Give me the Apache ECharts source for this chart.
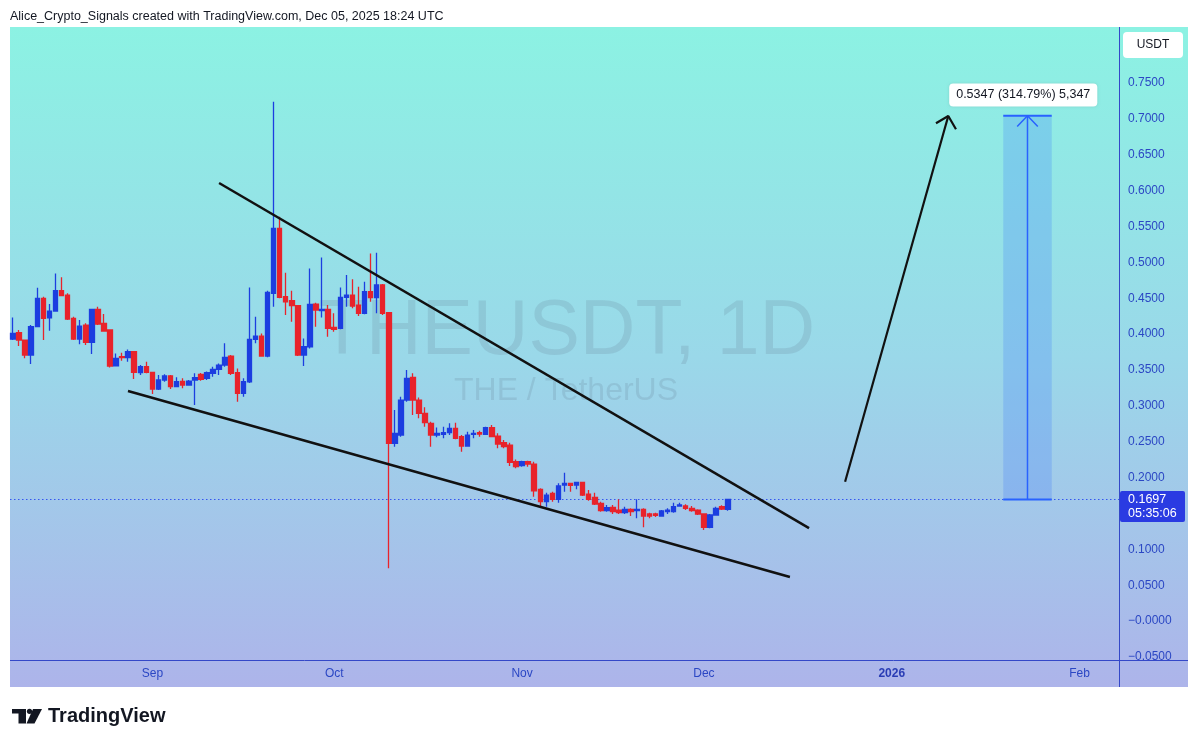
<!DOCTYPE html>
<html><head><meta charset="utf-8">
<script src="https://cdn.jsdelivr.net/npm/echarts@6/dist/echarts.min.js"></script>
<style>html,body{margin:0;padding:0;background:#fff}#c{width:1200px;height:747px}</style>
</head><body><div id="c"></div>
<script>
// ---------- DATA ----------
const startDate = [2025, 7, 9];   // Aug 9, 2025 (first daily candle)
const dayCount = 183;             // days shown on the time axis (to early Feb 2026)
const opens  = [0.3932,0.4020,0.3918,0.3709,0.4104,0.4499,0.4229,0.4322,0.4606,0.4545,
                0.4220,0.3932,0.4127,0.3886,0.4346,0.4151,0.4058,0.3560,0.3686,0.3672,
                0.3756,0.3463,0.3547,0.3468,0.3235,0.3361,0.3417,0.3268,0.3342,0.3291,
                0.3361,0.3440,0.3384,0.3454,0.3509,0.3570,0.3695,0.3463,0.3175,0.3337,
                0.3928,0.3974,0.3695,0.4569,0.5475,0.4522,0.4466,0.4397,0.3709,0.3825,
                0.4420,0.4327,0.4346,0.4095,0.4081,0.4513,0.4545,0.4406,0.4290,0.4592,
                0.4508,0.4685,0.4299,0.2478,0.2594,0.3082,0.3398,0.3082,0.2896,0.2757,
                0.2594,0.2604,0.2627,0.2687,0.2571,0.2441,0.2604,0.2627,0.2604,0.2697,
                0.2580,0.2488,0.2455,0.2223,0.2167,0.2223,0.2190,0.1837,0.1665,0.1781,
                0.1698,0.1898,0.1921,0.1898,0.1935,0.1772,0.1726,0.1642,0.1540,0.1587,
                0.1549,0.1512,0.1559,0.1540,0.1559,0.1494,0.1494,0.1466,0.1526,0.1526,
                0.1605,0.1605,0.1573,0.1549,0.1494,0.1308,0.1480,0.1596,0.1559];
const highs  = [0.4234,0.4058,0.3925,0.4127,0.4648,0.4522,0.4420,0.4847,0.4792,0.4569,
                0.4243,0.4197,0.4151,0.4350,0.4383,0.4281,0.4067,0.3732,0.3742,0.3788,
                0.3760,0.3570,0.3616,0.3470,0.3430,0.3440,0.3430,0.3398,0.3384,0.3361,
                0.3454,0.3460,0.3480,0.3546,0.3593,0.3872,0.3709,0.3523,0.3384,0.4652,
                0.4243,0.4011,0.4606,0.7240,0.5637,0.4857,0.4606,0.4400,0.3941,0.4917,
                0.4438,0.5070,0.4406,0.4290,0.4652,0.4824,0.4764,0.4662,0.4731,0.5126,
                0.5135,0.4699,0.4310,0.2943,0.3129,0.3500,0.3454,0.3119,0.2980,0.2780,
                0.2701,0.2711,0.2757,0.2766,0.2594,0.2641,0.2664,0.2655,0.2711,0.2734,
                0.2618,0.2525,0.2488,0.2255,0.2237,0.2237,0.2223,0.1851,0.1791,0.1805,
                0.1921,0.2070,0.1930,0.1944,0.1944,0.1828,0.1791,0.1665,0.1619,0.1619,
                0.1698,0.1596,0.1573,0.1698,0.1573,0.1512,0.1512,0.1549,0.1573,0.1651,
                0.1651,0.1628,0.1605,0.1559,0.1503,0.1494,0.1596,0.1615,0.1707];
const lows   = [0.3918,0.3835,0.3663,0.3584,0.4095,0.3918,0.4048,0.4313,0.4531,0.4197,
                0.3920,0.3858,0.3849,0.3723,0.4127,0.4034,0.3537,0.3556,0.3630,0.3616,
                0.3375,0.3430,0.3454,0.3166,0.3221,0.3338,0.3235,0.3259,0.3245,0.3282,
                0.3012,0.3350,0.3360,0.3407,0.3430,0.3546,0.3430,0.3059,0.3128,0.3320,
                0.3872,0.3686,0.3677,0.4383,0.4499,0.4267,0.4174,0.3695,0.3556,0.3802,
                0.4104,0.4234,0.3965,0.4034,0.4067,0.4383,0.4360,0.4253,0.4276,0.4452,
                0.4290,0.4267,0.0736,0.2432,0.2571,0.3059,0.2873,0.2827,0.2711,0.2432,
                0.2562,0.2548,0.2594,0.2534,0.2362,0.2432,0.2548,0.2571,0.2594,0.2562,
                0.2409,0.2409,0.2162,0.2130,0.2153,0.2153,0.1735,0.1595,0.1595,0.1665,
                0.1651,0.1805,0.1805,0.1837,0.1744,0.1679,0.1619,0.1526,0.1526,0.1494,
                0.1494,0.1494,0.1466,0.1433,0.1308,0.1433,0.1452,0.1457,0.1494,0.1512,
                0.1596,0.1549,0.1526,0.1480,0.1271,0.1294,0.1480,0.1549,0.1540];
const closes = [0.4011,0.3918,0.3709,0.4104,0.4499,0.4220,0.4322,0.4606,0.4536,0.4211,
                0.3932,0.4113,0.3886,0.4346,0.4141,0.4044,0.3556,0.3663,0.3672,0.3756,
                0.3468,0.3547,0.3468,0.3235,0.3361,0.3417,0.3268,0.3338,0.3291,0.3347,
                0.3393,0.3370,0.3463,0.3509,0.3570,0.3677,0.3454,0.3175,0.3337,0.3928,
                0.3974,0.3695,0.4583,0.5475,0.4513,0.4452,0.4397,0.3709,0.3825,0.4415,
                0.4336,0.4346,0.4081,0.4067,0.4513,0.4545,0.4392,0.4290,0.4592,0.4508,
                0.4685,0.4290,0.2478,0.2618,0.3082,0.3384,0.3082,0.2896,0.2766,0.2594,
                0.2618,0.2627,0.2687,0.2548,0.2441,0.2594,0.2618,0.2608,0.2697,0.2571,
                0.2469,0.2432,0.2213,0.2153,0.2223,0.2190,0.1818,0.1665,0.1758,0.1698,
                0.1884,0.1921,0.1893,0.1935,0.1758,0.1698,0.1633,0.1540,0.1582,0.1526,
                0.1512,0.1559,0.1526,0.1559,0.1466,0.1466,0.1475,0.1536,0.1549,0.1596,
                0.1619,0.1573,0.1540,0.1494,0.1308,0.1480,0.1573,0.1563,0.1697];
const monthTicks = {'2025-09-01':'Sep','2025-10-01':'Oct','2025-11-01':'Nov',
                    '2025-12-01':'Dec','2026-01-01':'2026','2026-02-01':'Feb'};
const priceTicks = [-0.05,0,0.05,0.10,0.15,0.20,0.25,0.30,0.35,0.40,0.45,0.50,0.55,0.60,0.65,0.70,0.75];
const lastPrice = 0.1697;
const countdown = '05:35:06';
// drawings (x in day index from first candle, y in price)
const upperTrend = [[34.0,0.6107],[131.35,0.1298]];
const lowerTrend = [[18.97,0.3208],[128.2,0.0615]];
const arrowShaft = [[137.3,0.1944],[154.33,0.7040]];
const arrowHead  = [[152.3,0.6939],[154.33,0.7040],[155.6,0.6855]];
const rangeX = [163.4, 167.4, 171.4];   // left, middle, right
const rangeY = [0.1697, 0.7044];        // from, to
const rangeLabel = '0.5347 (314.79%) 5,347';

// ---------- BUILD ----------
const cats = [];
const d0 = Date.UTC(startDate[0], startDate[1], startDate[2]);
for (let i = 0; i < dayCount; i++) cats.push(new Date(d0 + i * 86400000).toISOString().slice(0, 10));
const candleData = opens.map((o, i) => [o, closes[i], lows[i], highs[i]]);

const UP = '#1C3EE0', DOWN = '#E8232B', AXIS = '#2B47C4', TVBLUE = '#2962FF';
const FONT = 'Liberation Sans, Arial, sans-serif';
const chart = echarts.init(document.getElementById('c'), null, {renderer: 'canvas'});

function lineSeries(data, color, width) {
  return {type: 'line', xAxisIndex: 1, yAxisIndex: 0, data: data, symbol: 'none', silent: true,
          lineStyle: {color: color, width: width}, z: 6, animation: false};
}

const option = {
  animation: false,
  backgroundColor: '#ffffff',
  grid: {left: 10, right: 81, top: 27, bottom: 87},
  xAxis: [
    {type: 'category', data: cats, boundaryGap: true,
     axisLine: {show: false}, axisTick: {show: false}, splitLine: {show: false},
     axisLabel: {
       interval: (i, v) => monthTicks.hasOwnProperty(v),
       formatter: v => monthTicks[v] === '2026' ? '{b|2026}' : (monthTicks[v] || ''),
       color: AXIS, fontSize: 12, margin: 8, fontFamily: FONT,
       rich: {b: {fontWeight: 'bold', color: '#2A3DB5', fontSize: 12, fontFamily: FONT}}
     }},
    {type: 'value', min: -0.5, max: dayCount - 0.5, show: false}
  ],
  yAxis: [{
    type: 'value', position: 'right', min: -0.0541, max: 0.8281, scale: true,
    axisLine: {show: false}, axisTick: {show: false}, splitLine: {show: false},
    axisLabel: {
      customValues: priceTicks,
      formatter: v => (Math.abs(v) < 1e-9 ? '\u22120.0000' : (v < 0 ? '\u2212' + Math.abs(v).toFixed(4) : v.toFixed(4))),
      color: AXIS, fontSize: 12, margin: 9, fontFamily: FONT
    }
  }],
  series: [
    {type: 'candlestick', xAxisIndex: 0, yAxisIndex: 0, data: candleData, barWidth: 5, z: 5,
     itemStyle: {color: UP, color0: DOWN, borderColor: UP, borderColor0: DOWN, borderWidth: 1.3},
     markLine: {symbol: 'none', silent: true, label: {show: false},
                lineStyle: {color: '#3556F0', type: [1.5, 2.5], width: 1.2}, data: [{yAxis: lastPrice}]}},
    lineSeries(upperTrend, '#111111', 2.5),
    lineSeries(lowerTrend, '#111111', 2.5),
    lineSeries(arrowShaft, '#111111', 2.2),
    lineSeries(arrowHead, '#111111', 2.2),
    Object.assign(lineSeries([[rangeX[1], rangeY[0]], [rangeX[1], rangeY[1]]], TVBLUE, 1.5), {
      markArea: {silent: true, itemStyle: {color: 'rgba(41,98,255,0.2)'},
                 data: [[{coord: [rangeX[0], rangeY[0]]}, {coord: [rangeX[2], rangeY[1]]}]]},
      markPoint: {silent: true, symbol: 'rect', symbolSize: 0,
                  data: [{coord: [rangeX[1] - 0.7, rangeY[1] + 0.0289]}],
                  label: {show: true, position: 'inside', formatter: rangeLabel, color: '#131722',
                          fontSize: 12.5, fontFamily: FONT, backgroundColor: '#ffffff',
                          borderRadius: 4, padding: [5, 7],
                          shadowColor: 'rgba(0,0,0,0.12)', shadowBlur: 3}}
    }),
    lineSeries([[rangeX[0], rangeY[1]], [rangeX[2], rangeY[1]]], TVBLUE, 2),
    lineSeries([[rangeX[0], rangeY[0]], [rangeX[2], rangeY[0]]], TVBLUE, 2),
    lineSeries([[rangeX[1] - 1.7, rangeY[1] - 0.0149], [rangeX[1], rangeY[1]], [rangeX[1] + 1.7, rangeY[1] - 0.0149]], TVBLUE, 1.5)
  ]
};
chart.setOption(option);

const py = chart.convertToPixel({yAxisIndex: 0}, lastPrice);
chart.setOption({
  graphic: {elements: [
    {type: 'rect', z: -10, silent: true, shape: {x: 10, y: 27, width: 1178, height: 660},
     style: {fill: {type: 'linear', x: 0, y: 0, x2: 0, y2: 1,
             colorStops: [{offset: 0, color: '#8CF2E3'}, {offset: 0.5, color: '#9AD8E9'}, {offset: 1, color: '#ADB4EA'}]}}},
    {type: 'text', z: -5, silent: true, x: 567, y: 333,
     style: {text: 'THEUSDT, 1D', fontSize: 77, fontFamily: FONT, fill: 'rgba(90,105,130,0.17)', align: 'center', verticalAlign: 'middle'}},
    {type: 'text', z: -5, silent: true, x: 566, y: 391,
     style: {text: 'THE / TetherUS', fontSize: 32, fontFamily: FONT, fill: 'rgba(90,105,130,0.17)', align: 'center', verticalAlign: 'middle'}},
    {type: 'line', z: 20, silent: true, shape: {x1: 1119.5, y1: 27, x2: 1119.5, y2: 687}, style: {stroke: '#3448C8', lineWidth: 1}},
    {type: 'line', z: 20, silent: true, shape: {x1: 10, y1: 660.5, x2: 1188, y2: 660.5}, style: {stroke: '#3448C8', lineWidth: 1}},
    {type: 'text', z: 20, silent: true, x: 10, y: 17,
     style: {text: 'Alice_Crypto_Signals created with TradingView.com, Dec 05, 2025 18:24 UTC', fontSize: 12.5, fontFamily: FONT, fill: '#131722', verticalAlign: 'middle'}},
    {type: 'rect', z: 20, silent: true, shape: {x: 1123, y: 32, width: 60, height: 26, r: 4}, style: {fill: '#ffffff'}},
    {type: 'text', z: 21, silent: true, x: 1153, y: 45,
     style: {text: 'USDT', fontSize: 12, fontFamily: FONT, fill: '#131722', align: 'center', verticalAlign: 'middle'}},
    {type: 'rect', z: 20, silent: true, shape: {x: 1120, y: py - 8.5, width: 65, height: 31, r: 2}, style: {fill: '#2A3BE2'}},
    {type: 'text', z: 21, silent: true, x: 1128, y: py + 0.5,
     style: {text: lastPrice.toFixed(4), fontSize: 12.5, fontFamily: FONT, fill: '#ffffff', verticalAlign: 'middle'}},
    {type: 'text', z: 21, silent: true, x: 1128, y: py + 14.5,
     style: {text: countdown, fontSize: 12.5, fontFamily: FONT, fill: '#ffffff', verticalAlign: 'middle'}},
    // TradingView logo
    {type: 'rect', z: 20, silent: true, shape: {x: 12, y: 709, width: 14, height: 4.5}, style: {fill: '#131722'}},
    {type: 'rect', z: 20, silent: true, shape: {x: 18.5, y: 709, width: 7.5, height: 14.5}, style: {fill: '#131722'}},
    {type: 'circle', z: 20, silent: true, shape: {cx: 29.5, cy: 711.3, r: 2.6}, style: {fill: '#131722'}},
    {type: 'polygon', z: 20, silent: true, shape: {points: [[33, 709], [42, 709], [34.5, 723.5], [26.5, 723.5]]}, style: {fill: '#131722'}},
    {type: 'text', z: 20, silent: true, x: 48, y: 716.5,
     style: {text: 'TradingView', fontSize: 20, fontWeight: 'bold', fontFamily: FONT, fill: '#131722', verticalAlign: 'middle'}}
  ]}
});
</script></body></html>
